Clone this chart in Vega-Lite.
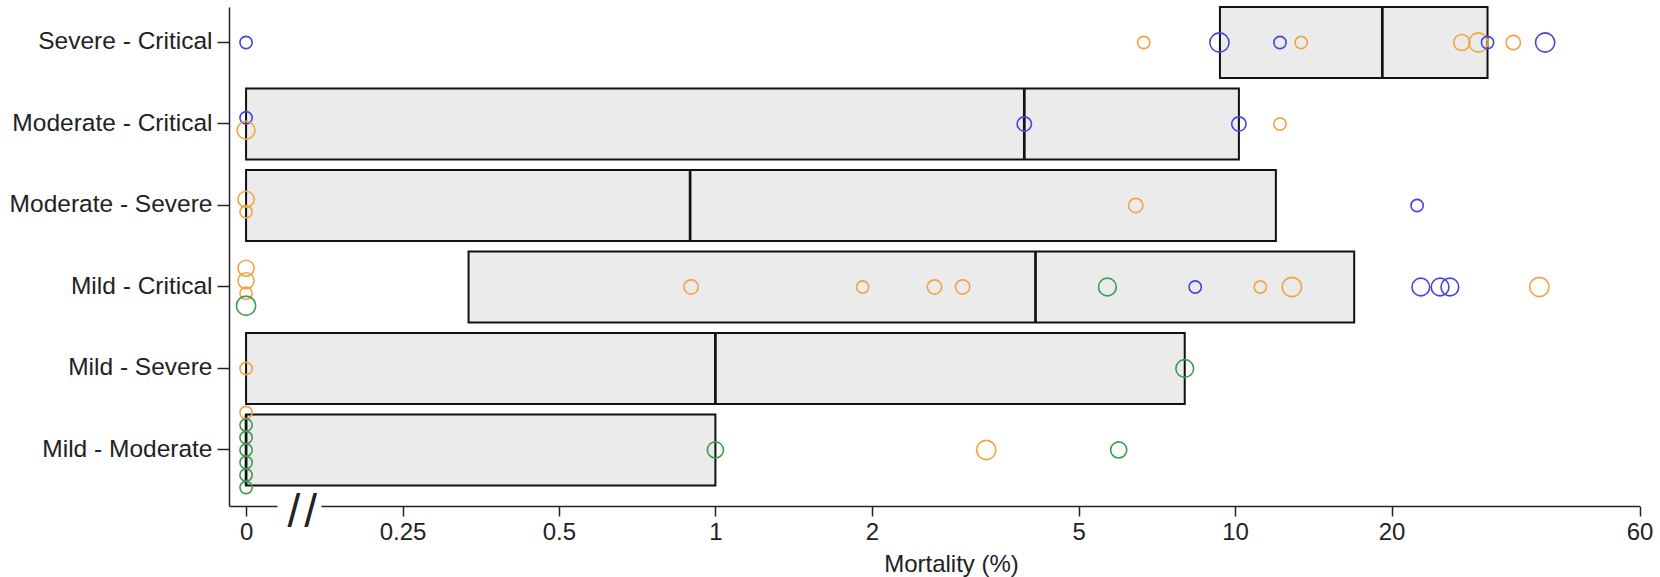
{
  "$schema": "https://vega.github.io/schema/vega-lite/v6.json",
  "width": 1410.5,
  "height": 499,
  "autosize": "none",
  "padding": {"left": 229, "top": 7, "right": 20.5, "bottom": 71},
  "background": "white",
  "config": {
    "view": {"stroke": null},
    "font": "Liberation Sans",
    "axis": {"domainColor": "#222", "tickColor": "#222", "labelColor": "#222", "titleColor": "#222", "domainWidth": 1.5, "tickWidth": 1.5, "grid": false}
  },
  "datasets": {
    "boxes": [
      {"cat": "Severe - Critical", "q1": 9.35, "median": 19.2, "q3": 30.6},
      {"cat": "Moderate - Critical", "q1": 0, "median": 3.93, "q3": 10.17},
      {"cat": "Moderate - Severe", "q1": 0, "median": 0.894, "q3": 11.98},
      {"cat": "Mild - Critical", "q1": 0.335, "median": 4.13, "q3": 16.95},
      {"cat": "Mild - Severe", "q1": 0, "median": 1.0, "q3": 8.0},
      {"cat": "Mild - Moderate", "q1": 0, "median": 0, "q3": 1.0}
    ],
    "points": [
      {"cat": "Severe - Critical", "m": 0, "g": "Group 1", "w": 1},
      {"cat": "Severe - Critical", "m": 6.67, "g": "Group 2", "w": 1},
      {"cat": "Severe - Critical", "m": 9.33, "g": "Group 1", "w": 3},
      {"cat": "Severe - Critical", "m": 12.2, "g": "Group 1", "w": 1},
      {"cat": "Severe - Critical", "m": 13.4, "g": "Group 2", "w": 1},
      {"cat": "Severe - Critical", "m": 27.3, "g": "Group 2", "w": 2},
      {"cat": "Severe - Critical", "m": 29.4, "g": "Group 2", "w": 3},
      {"cat": "Severe - Critical", "m": 30.6, "g": "Group 1", "w": 1},
      {"cat": "Severe - Critical", "m": 34.3, "g": "Group 2", "w": 1.5},
      {"cat": "Severe - Critical", "m": 39.5, "g": "Group 1", "w": 3},
      {"cat": "Moderate - Critical", "m": 0, "g": "Group 1", "w": 1},
      {"cat": "Moderate - Critical", "m": 0, "g": "Group 2", "w": 2.5},
      {"cat": "Moderate - Critical", "m": 3.93, "g": "Group 1", "w": 1.5},
      {"cat": "Moderate - Critical", "m": 10.17, "g": "Group 1", "w": 1.5},
      {"cat": "Moderate - Critical", "m": 12.2, "g": "Group 2", "w": 1},
      {"cat": "Moderate - Severe", "m": 0, "g": "Group 2", "w": 2},
      {"cat": "Moderate - Severe", "m": 0, "g": "Group 2", "w": 1},
      {"cat": "Moderate - Severe", "m": 6.44, "g": "Group 2", "w": 1.5},
      {"cat": "Moderate - Severe", "m": 22.4, "g": "Group 1", "w": 1},
      {"cat": "Mild - Critical", "m": 0, "g": "Group 2", "w": 2},
      {"cat": "Mild - Critical", "m": 0, "g": "Group 2", "w": 2},
      {"cat": "Mild - Critical", "m": 0, "g": "Group 2", "w": 1},
      {"cat": "Mild - Critical", "m": 0, "g": "Group 3", "w": 3},
      {"cat": "Mild - Critical", "m": 0.898, "g": "Group 2", "w": 1.5},
      {"cat": "Mild - Critical", "m": 1.92, "g": "Group 2", "w": 1},
      {"cat": "Mild - Critical", "m": 2.64, "g": "Group 2", "w": 1.5},
      {"cat": "Mild - Critical", "m": 2.99, "g": "Group 2", "w": 1.5},
      {"cat": "Mild - Critical", "m": 5.68, "g": "Group 3", "w": 2.5},
      {"cat": "Mild - Critical", "m": 8.38, "g": "Group 1", "w": 1},
      {"cat": "Mild - Critical", "m": 11.18, "g": "Group 2", "w": 1},
      {"cat": "Mild - Critical", "m": 12.86, "g": "Group 2", "w": 3},
      {"cat": "Mild - Critical", "m": 22.77, "g": "Group 1", "w": 2.5},
      {"cat": "Mild - Critical", "m": 24.8, "g": "Group 1", "w": 2.5},
      {"cat": "Mild - Critical", "m": 25.9, "g": "Group 1", "w": 2.5},
      {"cat": "Mild - Critical", "m": 38.5, "g": "Group 2", "w": 3},
      {"cat": "Mild - Severe", "m": 0, "g": "Group 2", "w": 1},
      {"cat": "Mild - Severe", "m": 8.0, "g": "Group 3", "w": 2.5},
      {"cat": "Mild - Moderate", "m": 0, "g": "Group 2", "w": 1},
      {"cat": "Mild - Moderate", "m": 0, "g": "Group 3", "w": 1},
      {"cat": "Mild - Moderate", "m": 0, "g": "Group 3", "w": 1},
      {"cat": "Mild - Moderate", "m": 0, "g": "Group 3", "w": 1},
      {"cat": "Mild - Moderate", "m": 0, "g": "Group 3", "w": 1},
      {"cat": "Mild - Moderate", "m": 0, "g": "Group 3", "w": 1},
      {"cat": "Mild - Moderate", "m": 0, "g": "Group 3", "w": 1},
      {"cat": "Mild - Moderate", "m": 1.0, "g": "Group 3", "w": 2},
      {"cat": "Mild - Moderate", "m": 3.32, "g": "Group 2", "w": 3},
      {"cat": "Mild - Moderate", "m": 5.97, "g": "Group 3", "w": 2}
    ]
  },
  "layer": [
    {
      "data": {"name": "boxes"},
      "transform": [
        {"calculate": "datum.q1 == 0 ? 0.125 : datum.q1", "as": "q1pos"}
      ],
      "mark": {"type": "bar", "fill": "#ebebeb", "stroke": "#111", "strokeWidth": 2, "height": {"expr": "bandwidth('y')"}},
      "encoding": {
        "y": {
          "field": "cat", "type": "nominal", "title": null,
          "scale": {"domain": ["Severe - Critical", "Moderate - Critical", "Moderate - Severe", "Mild - Critical", "Mild - Severe", "Mild - Moderate"], "paddingInner": 0.129, "paddingOuter": 0.126, "align": 0},
          "axis": {"labelFontSize": 24.5, "tickSize": 12, "labelPadding": 5, "labelLimit": 400}
        },
        "x": {
          "field": "q1pos", "type": "quantitative", "title": "Mortality (%)",
          "scale": {"type": "log", "domain": [0.1159, 60], "nice": false, "zero": false},
          "axis": {"values": [0.125, 0.25, 0.5, 1, 2, 5, 10, 20, 60], "format": "~g", "labelExpr": "datum.value < 0.2 ? '0' : datum.label", "labelFontSize": 24, "tickSize": 10, "labelPadding": 4, "titleFontSize": 24, "titleFontWeight": "normal", "titlePadding": 8, "titleX": 722, "labelFlush": false}
        },
        "x2": {"field": "q3"}
      }
    },
    {
      "data": {"name": "boxes"},
      "transform": [
        {"calculate": "datum.median == 0 ? 0.125 : datum.median", "as": "medpos"}
      ],
      "mark": {"type": "bar", "fill": null, "stroke": "#111", "strokeWidth": 2.7, "height": {"expr": "bandwidth('y')"}},
      "encoding": {
        "y": {"field": "cat", "type": "nominal", "title": null},
        "x": {"field": "medpos", "type": "quantitative", "title": "Mortality (%)"},
        "x2": {"field": "medpos"}
      }
    },
    {
      "data": {"name": "points"},
      "transform": [
        {"calculate": "datum.m == 0 ? 0.125 : datum.m", "as": "xpos"},
        {"window": [{"op": "row_number", "as": "rk"}, {"op": "count", "as": "cnt"}], "groupby": ["cat", "m"], "frame": [null, null]},
        {"calculate": "datum.m == 0 ? datum.rk - (datum.cnt + 1) / 2 : 0", "as": "off"}
      ],
      "mark": {"type": "point", "shape": "circle", "filled": false, "strokeWidth": 1.6, "opacity": 1},
      "encoding": {
        "y": {"field": "cat", "type": "nominal", "title": null},
        "yOffset": {"field": "off", "type": "quantitative", "scale": {"domain": [-1, 1], "range": [23, 48]}},
        "x": {"field": "xpos", "type": "quantitative", "title": "Mortality (%)"},
        "color": {"field": "g", "type": "nominal", "legend": null, "scale": {"domain": ["Group 1", "Group 2", "Group 3"], "range": ["#4545dc", "#f3a442", "#3f9a4d"]}},
        "size": {"field": "w", "type": "quantitative", "legend": null, "scale": {"domain": [1, 3], "range": [150, 370], "zero": false}}
      }
    },
    {
      "data": {"values": [{}]},
      "mark": {"type": "rule", "color": "white", "strokeWidth": 5},
      "encoding": {
        "x": {"datum": 0.1437, "type": "quantitative"},
        "x2": {"datum": 0.1746},
        "y": {"value": "height"}
      }
    },
    {
      "data": {"values": [{"s": "/", "p": 0.1545}, {"s": "/", "p": 0.1665}]},
      "mark": {"type": "text", "fontSize": 46, "baseline": "alphabetic", "align": "center", "dy": 21, "color": "#222"},
      "encoding": {
        "x": {"field": "p", "type": "quantitative"},
        "y": {"value": "height"},
        "text": {"field": "s"}
      }
    }
  ]
}
